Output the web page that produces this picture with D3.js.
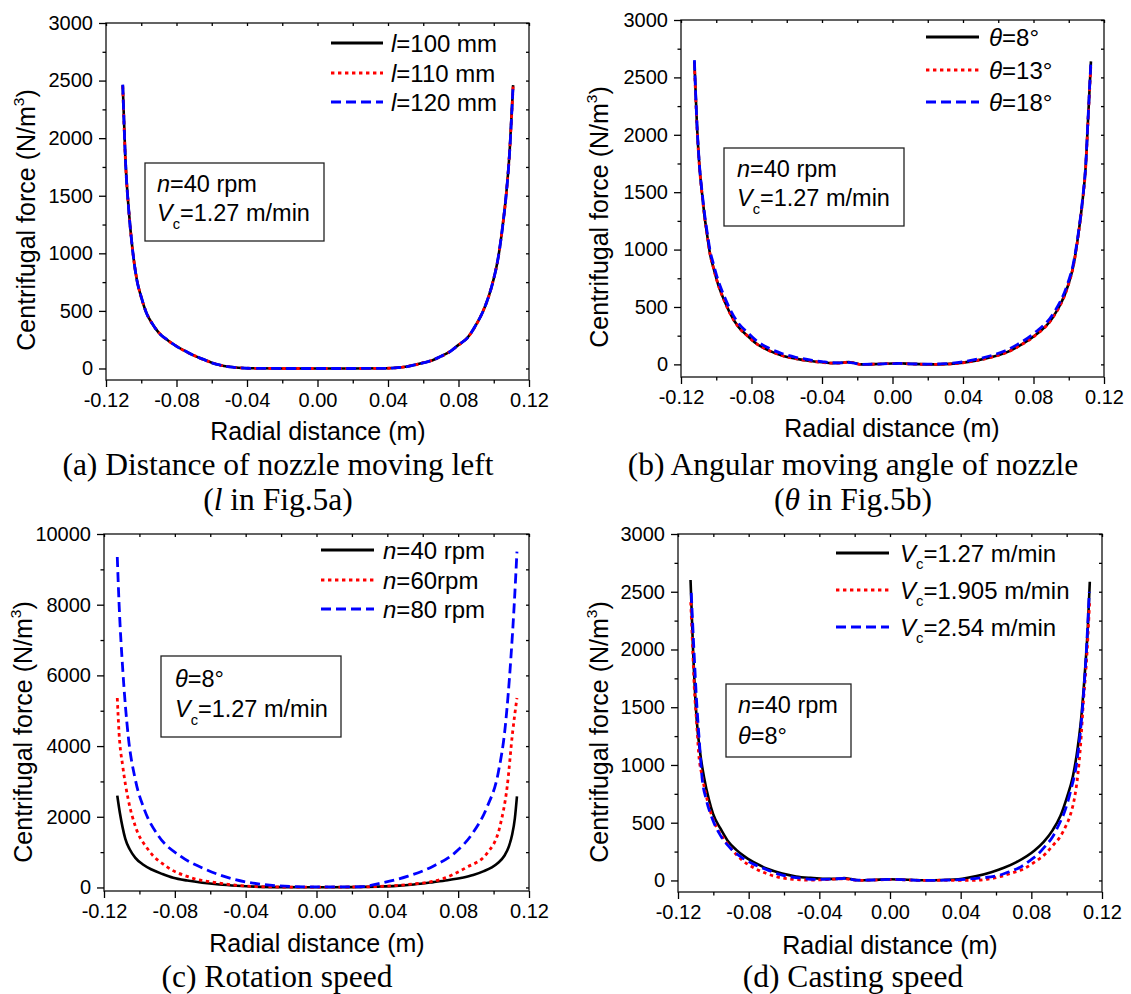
<!DOCTYPE html>
<html><head><meta charset="utf-8">
<script src="https://cdn.jsdelivr.net/npm/d3@7"></script>
<style>body{margin:0;background:#fff} svg{display:block}</style>
</head><body>
<svg id="c" width="1131" height="994"></svg>
<script>
// ---------------- DATA ----------------
const xMajor = [-0.12, -0.08, -0.04, 0, 0.04, 0.08, 0.12];
const xTickLabels = ["-0.12", "-0.08", "-0.04", "0.00", "0.04", "0.08", "0.12"];
const xMinor = [-0.10, -0.06, -0.02, 0.02, 0.06, 0.10];
const yMajor3000 = [0, 500, 1000, 1500, 2000, 2500, 3000];
const yMinor3000 = [250, 750, 1250, 1750, 2250, 2750];
const yMajor10000 = [0, 2000, 4000, 6000, 8000, 10000];
const yMinor10000 = [1000, 3000, 5000, 7000, 9000];

// (a) distance of nozzle moving left
const xA = [-0.1105, -0.109, -0.107, -0.105, -0.1025, -0.1, -0.097, -0.094, -0.09, -0.085, -0.08, -0.075, -0.07, -0.065, -0.06, -0.055, -0.05, -0.045, -0.04, -0.02, 0, 0.02, 0.04, 0.045, 0.05, 0.055, 0.06, 0.065, 0.07, 0.075, 0.08, 0.085, 0.09, 0.094, 0.097, 0.1, 0.1025, 0.105, 0.107, 0.109, 0.111];
const aL100 = [2460, 1820, 1360, 1040, 770, 620, 480, 395, 310, 245, 193, 150, 112, 80, 50, 28, 15, 6, 2, 0, 0, 0, 2, 6, 15, 30, 49, 70, 105, 145, 205, 265, 380, 500, 620, 780, 960, 1230, 1500, 1880, 2460];
const aL110 = [2455, 1815, 1362, 1038, 772, 618, 482, 394, 311, 244, 194, 149, 113, 79, 51, 28, 15, 6, 2, 0, 0, 0, 2, 6, 15, 30, 50, 70, 104, 146, 204, 266, 378, 502, 618, 782, 958, 1232, 1498, 1882, 2455];
const aL120 = [2465, 1822, 1358, 1042, 768, 622, 479, 396, 309, 246, 192, 151, 111, 81, 49, 29, 14, 7, 2, 0, 0, 0, 2, 7, 14, 31, 48, 71, 106, 144, 206, 264, 382, 498, 622, 778, 962, 1228, 1502, 1878, 2465];

// (b) angular moving angle of nozzle
const xB = [-0.1124, -0.111, -0.1095, -0.108, -0.1068, -0.105, -0.1035, -0.1017, -0.099, -0.0955, -0.092, -0.0874, -0.082, -0.0771, -0.07, -0.0628, -0.055, -0.0464, -0.04, -0.0341, -0.03, -0.025, -0.021, -0.018, -0.01, 0, 0.004, 0.01, 0.02, 0.03, 0.04, 0.048, 0.0563, 0.064, 0.0707, 0.0809, 0.0911, 0.0993, 0.1025, 0.1055, 0.108, 0.1096, 0.111, 0.1126];
const bT8 = [2640, 2100, 1720, 1480, 1310, 1110, 960, 848, 700, 558, 440, 326, 245, 180, 120, 78, 50, 29, 18, 11, 12, 20, 10, 0, 2, 8, 10, 4, 0, 2, 15, 35, 64, 100, 151, 253, 412, 674, 850, 1139, 1450, 1720, 2150, 2640];
const bT13 = [2620, 2090, 1715, 1475, 1305, 1108, 958, 846, 698, 556, 438, 325, 244, 179, 119, 77, 49, 28, 17, 11, 12, 19, 9, 0, 2, 8, 9, 4, 0, 2, 14, 34, 63, 99, 150, 251, 410, 670, 846, 1135, 1445, 1715, 2140, 2620];
const bT18 = [2650, 2110, 1730, 1495, 1330, 1135, 990, 880, 735, 595, 475, 358, 275, 205, 140, 95, 62, 38, 24, 14, 13, 18, 8, 0, 2, 7, 8, 5, 2, 6, 22, 45, 78, 118, 172, 278, 440, 700, 870, 1150, 1460, 1730, 2160, 2650];

// (c) rotation speed
const xC40 = [-0.1125, -0.111, -0.1095, -0.108, -0.1055, -0.1023, -0.098, -0.0931, -0.087, -0.0809, -0.073, -0.0645, -0.055, -0.045, -0.035, -0.02, 0, 0.02, 0.035, 0.045, 0.055, 0.0659, 0.074, 0.0822, 0.0885, 0.0945, 0.099, 0.1026, 0.106, 0.1087, 0.1105, 0.112, 0.1132];
const cN40 = [2600, 2100, 1700, 1380, 1080, 839, 650, 508, 380, 274, 195, 133, 85, 50, 25, 10, 5, 10, 25, 45, 85, 151, 205, 274, 350, 461, 570, 697, 890, 1167, 1500, 1950, 2580];
const xC60 = [-0.1125, -0.1115, -0.1094, -0.1063, -0.1023, -0.0951, -0.085, -0.0707, -0.0564, -0.04, -0.025, 0, 0.025, 0.04, 0.0517, 0.07, 0.0843, 0.0965, 0.1036, 0.1077, 0.1107, 0.1132];
const cN60 = [5359, 4370, 3427, 2486, 1732, 1073, 602, 274, 133, 40, 15, 10, 15, 40, 85, 226, 556, 980, 1732, 2862, 4370, 5359];
const xC80 = [-0.1125, -0.1115, -0.1094, -0.1063, -0.1023, -0.0972, -0.0891, -0.0768, -0.0625, -0.0462, -0.03, -0.015, 0, 0.015, 0.025, 0.0374, 0.0517, 0.0659, 0.0781, 0.0883, 0.0965, 0.1026, 0.1066, 0.1097, 0.1117, 0.1132];
const cN80 = [9350, 8042, 6158, 4274, 3051, 2203, 1449, 884, 508, 226, 85, 30, 15, 15, 20, 133, 319, 602, 980, 1545, 2297, 3240, 4557, 6441, 8042, 9500];

// (d) casting speed
const xD127 = [-0.1129, -0.1114, -0.1094, -0.1075, -0.1053, -0.1025, -0.1002, -0.096, -0.092, -0.087, -0.0818, -0.0755, -0.0695, -0.061, -0.0532, -0.045, -0.0368, -0.03, -0.026, -0.022, -0.018, -0.01, 0, 0.01, 0.02, 0.03, 0.0409, 0.049, 0.0573, 0.0645, 0.0716, 0.0818, 0.087, 0.092, 0.0965, 0.1002, 0.1035, 0.1063, 0.1085, 0.1104, 0.112, 0.1131];
const dV127 = [2602, 1966, 1388, 1110, 896, 700, 578, 450, 347, 265, 202, 145, 101, 60, 35, 22, 14, 14, 20, 12, 2, 4, 10, 6, 2, 4, 15, 38, 72, 110, 159, 260, 335, 434, 560, 722, 900, 1156, 1450, 1821, 2200, 2587];
const xD1905 = [-0.1128, -0.1118, -0.1108, -0.1095, -0.1083, -0.1063, -0.1043, -0.1015, -0.0982, -0.094, -0.0899, -0.084, -0.0777, -0.07, -0.0634, -0.055, -0.045, -0.035, -0.026, -0.018, -0.01, 0, 0.01, 0.02, 0.03, 0.04, 0.047, 0.055, 0.0614, 0.068, 0.0757, 0.082, 0.088, 0.092, 0.0962, 0.0995, 0.1023, 0.1045, 0.1064, 0.108, 0.1094, 0.1115, 0.113];
const dV1905 = [2410, 2050, 1677, 1380, 1099, 900, 752, 590, 462, 360, 275, 180, 115, 60, 29, 10, 3, 8, 15, 0, 3, 8, 4, 0, 2, 0, 0, 10, 29, 60, 101, 160, 231, 300, 376, 470, 578, 720, 925, 1200, 1532, 1966, 2414];
const xD254 = [-0.1125, -0.111, -0.1095, -0.108, -0.1063, -0.104, -0.1002, -0.096, -0.09, -0.084, -0.0777, -0.07, -0.062, -0.052, -0.042, -0.033, -0.026, -0.018, -0.01, 0, 0.01, 0.02, 0.03, 0.04, 0.05, 0.0614, 0.0675, 0.0737, 0.079, 0.084, 0.088, 0.092, 0.0955, 0.0991, 0.1025, 0.1053, 0.1075, 0.1095, 0.1112, 0.1128];
const dV254 = [2490, 2000, 1560, 1220, 880, 700, 520, 390, 275, 200, 145, 95, 50, 22, 10, 12, 18, 2, 4, 10, 5, 0, 2, 8, 20, 43, 75, 115, 170, 231, 300, 376, 480, 607, 790, 983, 1250, 1600, 2000, 2500];

// Text content
const legendA = [[["l","i"],["=100 mm",""]], [["l","i"],["=110 mm",""]], [["l","i"],["=120 mm",""]]];
const legendB = [[["θ","i"],["=8°",""]], [["θ","i"],["=13°",""]], [["θ","i"],["=18°",""]]];
const legendC = [[["n","i"],["=40 rpm",""]], [["n","i"],["=60rpm",""]], [["n","i"],["=80 rpm",""]]];
const legendD = [[["V","i"],["c","sub"],["=1.27 m/min",""]], [["V","i"],["c","sub"],["=1.905 m/min",""]], [["V","i"],["c","sub"],["=2.54 m/min",""]]];
const infoA = [[["n","i"],["=40 rpm",""]], [["V","i"],["c","sub"],["=1.27 m/min",""]]];
const infoB = infoA;
const infoC = [[["θ","i"],["=8°",""]], [["V","i"],["c","sub"],["=1.27 m/min",""]]];
const infoD = [[["n","i"],["=40 rpm",""]], [["θ","i"],["=8°",""]]];
const captionA = [[["(a) Distance of nozzle moving left",""]], [["(",""],["l","i"],[" in Fig.5a)",""]]];
const captionB = [[["(b) Angular moving angle of nozzle",""]], [["(",""],["θ","i"],[" in Fig.5b)",""]]];
const captionC = [[["(c) Rotation speed",""]]];
const captionD = [[["(d) Casting speed",""]]];
const yTitle = [["Centrifugal force (N/m",""],["3","sup"],[")",""]];
const xTitle = [["Radial distance (m)",""]];

// ---------------- DRAWING ----------------
const SANS = '"Liberation Sans", Arial, Helvetica, sans-serif';
const SERIF = '"Liberation Serif", "Times New Roman", serif';
const svg = d3.select("#c");
svg.append("rect").attr("width",1131).attr("height",994).attr("fill","#fff");

function rich(textSel, parts, fs) {
  let shift = 0;
  parts.forEach(([s, st]) => {
    const t = textSel.append("tspan").text(s);
    let ns = 0;
    if (st === "i") t.attr("font-style", "italic");
    if (st === "sub") { t.attr("font-size", fs * 0.62); ns = fs * 0.32; }
    if (st === "sup") { t.attr("font-size", fs * 0.62); ns = -fs * 0.45; }
    const dy = ns - shift;
    if (dy !== 0) t.attr("dy", dy);
    shift = ns;
  });
}

const styles = [
  {stroke: "#000", width: 2.6, dash: null},
  {stroke: "#ff0000", width: 2.8, dash: "3.4,3.6"},
  {stroke: "#0000ff", width: 2.8, dash: "10,5"}
];

const panels = [
  {l:106, r:529, t:23, b:380, ymin:-100, ymax:3000, yMaj:yMajor3000, yMin:yMinor3000,
   series:[[xA,aL100],[xA,aL110],[xA,aL120]], legend:legendA, legX1:331, legX2:383, legTx:391, legY:[43,73,102],
   info:infoA, box:[145,163,324,241], infoTx:157, infoY:[192,221],
   caption:captionA, capX:278, capY:[475,510], yTx:35, yTy:220, xTx:318, xTy:440},
  {l:681, r:1104, t:20, b:377, ymin:-110, ymax:3000, yMaj:yMajor3000, yMin:yMinor3000,
   series:[[xB,bT8],[xB,bT13],[xB,bT18]], legend:legendB, legX1:926, legX2:979, legTx:989, legY:[37,70,102],
   info:infoB, box:[724,148,904,226], infoTx:737, infoY:[177,206],
   caption:captionB, capX:853, capY:[475,510], yTx:608, yTy:217, xTx:892, xTy:437},
  {l:104, r:529, t:534, b:891, ymin:-100, ymax:10000, yMaj:yMajor10000, yMin:yMinor10000,
   series:[[xC40,cN40],[xC60,cN60],[xC80,cN80]], legend:legendC, legX1:321, legX2:374, legTx:383, legY:[550,580,609],
   info:infoC, box:[161,656,341,737], infoTx:175, infoY:[687,717],
   caption:captionC, capX:277, capY:[987], yTx:32, yTy:732, xTx:317, xTy:952},
  {l:678, r:1102, t:534, b:892, ymin:-100, ymax:3000, yMaj:yMajor3000, yMin:yMinor3000,
   series:[[xD127,dV127],[xD1905,dV1905],[xD254,dV254]], legend:legendD, legX1:836, legX2:889, legTx:900, legY:[553,590,627],
   info:infoD, box:[726,684,851,757], infoTx:738, infoY:[713,744],
   caption:captionD, capX:853, capY:[987], yTx:608, yTy:732, xTx:890, xTy:954}
];

function styleAxis(sel, fs) {
  sel.select(".domain").remove();
  sel.selectAll(".tick line").attr("stroke", "#000").attr("stroke-width", 1.3);
  sel.attr("font-family", SANS).attr("font-size", fs);
  sel.selectAll(".tick text").attr("fill", "#000");
}

panels.forEach(P => {
  const g = svg.append("g");
  const x = d3.scaleLinear().domain([-0.12, 0.12]).range([P.l, P.r]);
  const y = d3.scaleLinear().domain([P.ymin, P.ymax]).range([P.b, P.t]);
  const line = d3.line().x(d => x(d[0])).y(d => y(d[1])).curve(d3.curveMonotoneX);

  // series
  P.series.forEach((s, i) => {
    const st = styles[i];
    g.append("path").datum(d3.zip(s[0], s[1])).attr("d", line)
      .attr("fill", "none").attr("stroke", st.stroke).attr("stroke-width", st.width)
      .attr("stroke-dasharray", st.dash).attr("stroke-linejoin", "round");
  });

  // frame
  g.append("rect").attr("x", P.l).attr("y", P.t).attr("width", P.r - P.l).attr("height", P.b - P.t)
    .attr("fill", "none").attr("stroke", "#222").attr("stroke-width", 1.4);

  // axes
  g.append("g").attr("transform", `translate(0,${P.b})`)
    .call(d3.axisBottom(x).tickValues(xMajor).tickSize(7).tickPadding(6).tickFormat((d, i) => xTickLabels[i]))
    .call(s => styleAxis(s, 20));
  g.append("g").attr("transform", `translate(0,${P.b})`)
    .call(d3.axisBottom(x).tickValues(xMinor).tickSize(3.5).tickFormat(""))
    .call(s => styleAxis(s, 20));
  g.append("g").attr("transform", `translate(0,${P.t})`)
    .call(d3.axisTop(x).tickValues(xMajor.concat(xMinor)).tickSize(-3).tickFormat(""))
    .call(s => styleAxis(s, 20));
  g.append("g").attr("transform", `translate(${P.l},0)`)
    .call(d3.axisLeft(y).tickValues(P.yMaj).tickSize(7).tickPadding(6).tickFormat(d3.format("d")))
    .call(s => styleAxis(s, 20));
  g.append("g").attr("transform", `translate(${P.l},0)`)
    .call(d3.axisLeft(y).tickValues(P.yMin).tickSize(3.5).tickFormat(""))
    .call(s => styleAxis(s, 20));
  g.append("g").attr("transform", `translate(${P.r},0)`)
    .call(d3.axisRight(y).tickValues(P.yMaj.concat(P.yMin)).tickSize(-3).tickFormat(""))
    .call(s => styleAxis(s, 20));

  // axis titles
  const xt = g.append("text").attr("x", P.xTx).attr("y", P.xTy).attr("text-anchor", "middle")
    .attr("font-family", SANS).attr("font-size", 25).attr("fill", "#000");
  rich(xt, xTitle, 25);
  const yt = g.append("text").attr("transform", `translate(${P.yTx},${P.yTy}) rotate(-90)`)
    .attr("text-anchor", "middle").attr("font-family", SANS).attr("font-size", 25).attr("fill", "#000");
  rich(yt, yTitle, 25);

  // legend
  P.legend.forEach((lab, i) => {
    const st = styles[i];
    g.append("line").attr("x1", P.legX1).attr("x2", P.legX2).attr("y1", P.legY[i]).attr("y2", P.legY[i])
      .attr("stroke", st.stroke).attr("stroke-width", 3.2).attr("stroke-dasharray", st.dash);
    const t = g.append("text").attr("x", P.legTx).attr("y", P.legY[i] + 8.5)
      .attr("font-family", SANS).attr("font-size", 24).attr("fill", "#000");
    rich(t, lab, 24);
  });

  // info box
  const bx = P.box;
  g.append("rect").attr("x", bx[0]).attr("y", bx[1]).attr("width", bx[2] - bx[0]).attr("height", bx[3] - bx[1])
    .attr("fill", "#fff").attr("stroke", "#222").attr("stroke-width", 1.3);
  P.info.forEach((lab, i) => {
    const t = g.append("text").attr("x", P.infoTx).attr("y", P.infoY[i])
      .attr("font-family", SANS).attr("font-size", 23.5).attr("fill", "#000");
    rich(t, lab, 23.5);
  });

  // caption
  P.caption.forEach((lab, i) => {
    const t = g.append("text").attr("x", P.capX).attr("y", P.capY[i]).attr("text-anchor", "middle")
      .attr("font-family", SERIF).attr("font-size", 31.5).attr("fill", "#000");
    rich(t, lab, 31.5);
  });
});
</script>
</body></html>
